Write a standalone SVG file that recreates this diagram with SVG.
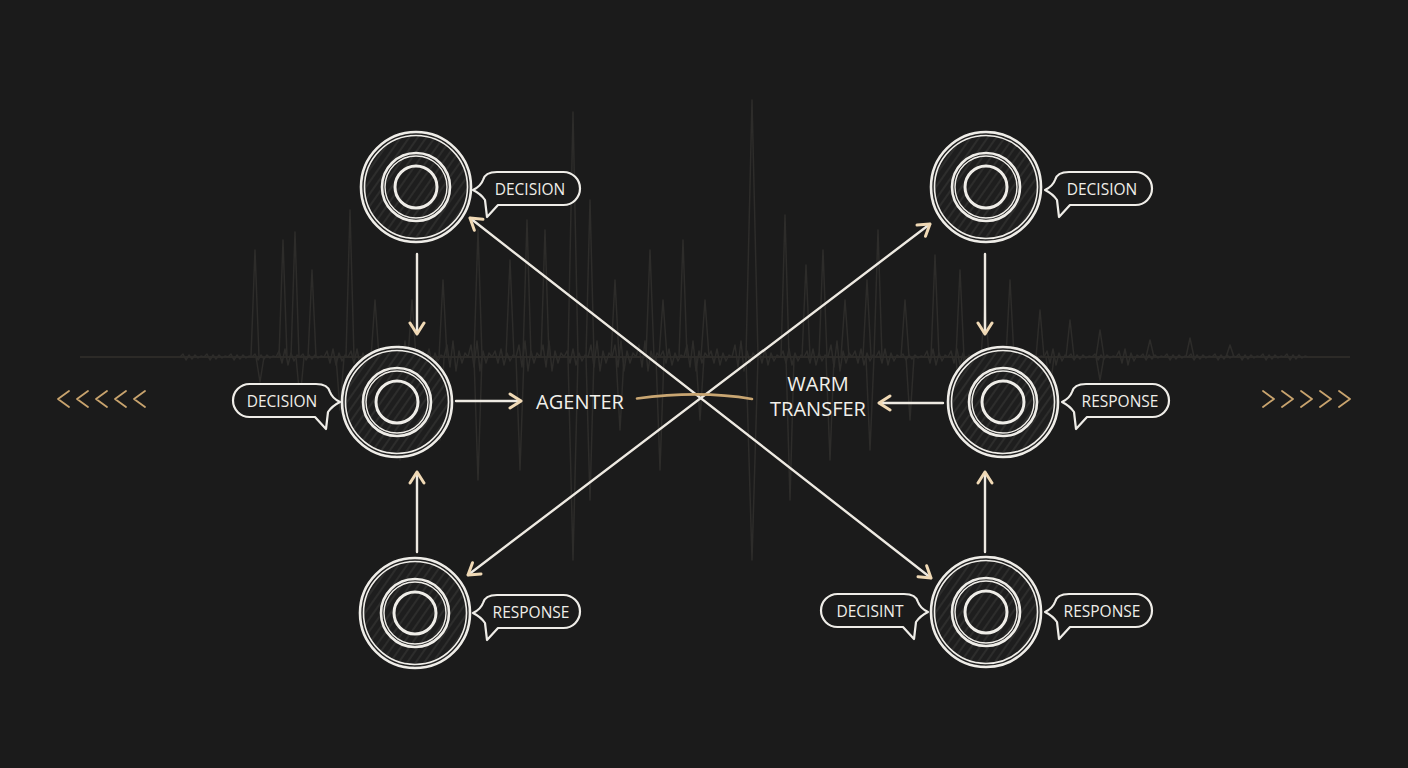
<svg xmlns="http://www.w3.org/2000/svg" xmlns:xlink="http://www.w3.org/1999/xlink" width="1408" height="768" viewBox="0 0 1408 768">
<style>
.ink{fill:none;stroke:#efede8;stroke-linecap:round;stroke-linejoin:round}
.conn{fill:none;stroke:#eeeae2;stroke-width:2.4;stroke-linecap:round}
.lbl{font-family:"Open Sans","Noto Sans","Liberation Sans",sans-serif;font-size:15.5px;fill:#f0eee9;text-anchor:middle}
.big{font-family:"Open Sans","Noto Sans","Liberation Sans",sans-serif;font-size:20px;fill:#f2f0ea;text-anchor:middle}
.wave{fill:none;stroke:#2d2c2a;stroke-width:1.5;stroke-linejoin:round}
.chev{fill:none;stroke:#c9a46e;stroke-width:1.8;stroke-linecap:round;stroke-linejoin:round}
</style>
<defs>
<pattern id="hatch" patternUnits="userSpaceOnUse" width="7" height="7" patternTransform="rotate(35)">
<rect width="7" height="7" fill="#1e1e1e"/>
<line x1="1" y1="0" x2="1" y2="7" stroke="#3b3b3a" stroke-width="1"/>
</pattern>
<marker id="ah" viewBox="-14 -9 16 18" refX="0" refY="0" markerWidth="16" markerHeight="18" markerUnits="userSpaceOnUse" orient="auto-start-reverse">
<path d="M-11,-7 L0,0 L-11,7" fill="none" stroke="#f0d9b5" stroke-width="3" stroke-linecap="round" stroke-linejoin="round"/>
</marker>
<g id="ring">
<circle r="55" fill="url(#hatch)"/>
<circle r="55" class="ink" stroke-width="2.6"/>
<circle r="51.5" class="ink" stroke-width="1.6"/>
<circle r="34" class="ink" stroke-width="2.6"/>
<circle r="31" class="ink" stroke-width="1.4"/>
<circle r="21" class="ink" stroke-width="3"/>
</g>
<path id="callout" d="M0,0 Q8,-4 10,-10 Q12,-18 24,-18 H90.5 A16.5 16.5 0 0 1 90.5,15 H25 L14,27 L12,10 Q8,4 0,0 Z" fill="#1b1b1b" stroke="#efede8" stroke-width="2.2" stroke-linejoin="round"/>
</defs>
<rect width="1408" height="768" fill="#1b1b1b"/>
<g id="waveform">
<line x1="80" y1="357" x2="1350" y2="357" stroke="#2c2a27" stroke-width="2.2"/>
<path class="wave" d="M180,357
l3,-3 l3,6 l3,-5 l3,4 l3,-4 l3,3 l3,-2 l3,1
l3,-3 l3,6 l3,-5 l3,4 l3,-4 l3,3 l3,-2 l3,1
l3,-3 l3,6 l3,-5 l3,4 l3,-4 l3,3 l3,-2 l3,1
l3,-3 l3,6 l3,-5 l3,4 l3,-4 l3,3 l3,-2 l3,1
l3,-6 l3,12 l3,-14 l3,16 l3,-12 l3,8 l3,-6 l3,2
l3,-3 l3,6 l3,-5 l3,4 l3,-4 l3,3 l3,-2 l3,1
l3,-6 l3,12 l3,-14 l3,16 l3,-12 l3,8 l3,-6 l3,2
l3,-6 l3,12 l3,-14 l3,16 l3,-12 l3,8 l3,-6 l3,2
l3,-6 l3,12 l3,-14 l3,16 l3,-12 l3,8 l3,-6 l3,2
l3,-12 l3,22 l3,-26 l3,30 l3,-20 l3,12 l3,-10 l3,4
l3,-6 l3,12 l3,-14 l3,16 l3,-12 l3,8 l3,-6 l3,2
l3,-12 l3,22 l3,-26 l3,30 l3,-20 l3,12 l3,-10 l3,4
l3,-12 l3,22 l3,-26 l3,30 l3,-20 l3,12 l3,-10 l3,4
l3,-6 l3,12 l3,-14 l3,16 l3,-12 l3,8 l3,-6 l3,2
l3,-12 l3,22 l3,-26 l3,30 l3,-20 l3,12 l3,-10 l3,4
l3,-12 l3,22 l3,-26 l3,30 l3,-20 l3,12 l3,-10 l3,4
l3,-6 l3,12 l3,-14 l3,16 l3,-12 l3,8 l3,-6 l3,2
l3,-12 l3,22 l3,-26 l3,30 l3,-20 l3,12 l3,-10 l3,4
l3,-12 l3,22 l3,-26 l3,30 l3,-20 l3,12 l3,-10 l3,4
l3,-12 l3,22 l3,-26 l3,30 l3,-20 l3,12 l3,-10 l3,4
l3,-6 l3,12 l3,-14 l3,16 l3,-12 l3,8 l3,-6 l3,2
l3,-12 l3,22 l3,-26 l3,30 l3,-20 l3,12 l3,-10 l3,4
l3,-6 l3,12 l3,-14 l3,16 l3,-12 l3,8 l3,-6 l3,2
l3,-12 l3,22 l3,-26 l3,30 l3,-20 l3,12 l3,-10 l3,4
l3,-6 l3,12 l3,-14 l3,16 l3,-12 l3,8 l3,-6 l3,2
l3,-6 l3,12 l3,-14 l3,16 l3,-12 l3,8 l3,-6 l3,2
l3,-6 l3,12 l3,-14 l3,16 l3,-12 l3,8 l3,-6 l3,2
l3,-12 l3,22 l3,-26 l3,30 l3,-20 l3,12 l3,-10 l3,4
l3,-6 l3,12 l3,-14 l3,16 l3,-12 l3,8 l3,-6 l3,2
l3,-6 l3,12 l3,-14 l3,16 l3,-12 l3,8 l3,-6 l3,2
l3,-3 l3,6 l3,-5 l3,4 l3,-4 l3,3 l3,-2 l3,1
l3,-6 l3,12 l3,-14 l3,16 l3,-12 l3,8 l3,-6 l3,2
l3,-6 l3,12 l3,-14 l3,16 l3,-12 l3,8 l3,-6 l3,2
l3,-3 l3,6 l3,-5 l3,4 l3,-4 l3,3 l3,-2 l3,1
l3,-6 l3,12 l3,-14 l3,16 l3,-12 l3,8 l3,-6 l3,2
l3,-3 l3,6 l3,-5 l3,4 l3,-4 l3,3 l3,-2 l3,1
l3,-6 l3,12 l3,-14 l3,16 l3,-12 l3,8 l3,-6 l3,2
l3,-3 l3,6 l3,-5 l3,4 l3,-4 l3,3 l3,-2 l3,1
l3,-3 l3,6 l3,-5 l3,4 l3,-4 l3,3 l3,-2 l3,1
l3,-6 l3,12 l3,-14 l3,16 l3,-12 l3,8 l3,-6 l3,2
l3,-3 l3,6 l3,-5 l3,4 l3,-4 l3,3 l3,-2 l3,1
l3,-3 l3,6 l3,-5 l3,4 l3,-4 l3,3 l3,-2 l3,1
l3,-3 l3,6 l3,-5 l3,4 l3,-4 l3,3 l3,-2 l3,1
l3,-3 l3,6 l3,-5 l3,4 l3,-4 l3,3 l3,-2 l3,1
l3,-3 l3,6 l3,-5 l3,4 l3,-4 l3,3 l3,-2 l3,1
l3,-3 l3,6 l3,-5 l3,4 l3,-4 l3,3 l3,-2 l3,1
l3,-3 l3,6 l3,-5 l3,4 l3,-4 l3,3 l3,-2 l3,1"/>
<path class="wave" d="M251,357 L255,250 L259,357 M279,357 L283,240 L287,357 M291,357 L295,232 L299,357 M308,357 L312,270 L316,357 M346,357 L350,210 L354,357 M371,357 L375,300 L379,357 M408,357 L412,300 L416,357 M439,357 L443,280 L447,357 M474,357 L478,230 L482,357 M506,357 L510,260 L514,357 M523,357 L527,220 L531,357 M541,357 L545,230 L549,357 M568,357 L573,112 L578,357 M586,357 L590,200 L594,357 M611,357 L615,280 L619,357 M646,357 L650,250 L654,357 M659,357 L663,300 L667,357 M679,357 L683,240 L687,357 M701,357 L705,300 L709,357 M746,357 L752,100 L758,357 M781,357 L785,215 L789,357 M802,357 L806,265 L810,357 M819,357 L823,250 L827,357 M841,357 L845,300 L849,357 M863,357 L867,280 L871,357 M874,357 L878,230 L882,357 M901,357 L905,300 L909,357 M931,357 L935,255 L939,357 M956,357 L960,270 L964,357 M981,357 L985,300 L989,357 M1006,357 L1010,280 L1014,357 M1036,357 L1040,310 L1044,357 M1066,357 L1070,320 L1074,357 M1096,357 L1100,330 L1104,357 M1146,357 L1150,340 L1154,357 M1186,357 L1190,338 L1194,357 M1226,357 L1230,345 L1234,357"/>
<path class="wave" d="M256,357 L260,382 L264,357 M296,357 L300,400 L304,357 M336,357 L340,410 L344,357 M374,357 L378,430 L382,357 M396,357 L400,460 L404,357 M436,357 L440,440 L444,357 M474,357 L478,480 L482,357 M516,357 L520,470 L524,357 M568,357 L573,560 L578,357 M586,357 L590,500 L594,357 M616,357 L620,430 L624,357 M656,357 L660,470 L664,357 M696,357 L700,420 L704,357 M746,357 L752,560 L758,357 M786,357 L790,500 L794,357 M826,357 L830,460 L834,357 M866,357 L870,450 L874,357 M906,357 L910,420 L914,357 M956,357 L960,410 L964,357 M996,357 L1000,400 L1004,357 M1046,357 L1050,390 L1054,357 M1096,357 L1100,380 L1104,357"/>
</g>
<g id="chevrons-left">
<path class="chev" d="M69,391 L58,399 L69,407 M88,391 L77,399 L88,407 M107,391 L96,399 L107,407 M126,391 L115,399 L126,407 M145,391 L134,399 L145,407"/>
</g>
<g id="chevrons-right">
<path class="chev" d="M1263,391 L1274,399 L1263,407 M1282,391 L1293,399 L1282,407 M1301,391 L1312,399 L1301,407 M1320,391 L1331,399 L1320,407 M1339,391 L1350,399 L1339,407"/>
</g>
<g id="connectors">
<line class="conn" x1="417" y1="254" x2="417" y2="334" marker-end="url(#ah)"/>
<line class="conn" x1="417" y1="552" x2="417" y2="472" marker-end="url(#ah)"/>
<line class="conn" x1="985" y1="254" x2="985" y2="334" marker-end="url(#ah)"/>
<line class="conn" x1="985" y1="552" x2="985" y2="472" marker-end="url(#ah)"/>
<line class="conn" x1="456" y1="401" x2="521" y2="401" stroke-width="3" marker-end="url(#ah)"/>
<line class="conn" x1="943" y1="403" x2="879" y2="403" stroke-width="3" marker-end="url(#ah)"/>
<line class="conn" x1="470" y1="218" x2="931" y2="578" marker-start="url(#ah)" marker-end="url(#ah)"/>
<line class="conn" x1="468" y1="575" x2="930" y2="224" marker-start="url(#ah)" marker-end="url(#ah)"/>
<path d="M637,398.5 Q700,390 752,399" fill="none" stroke="#c9a672" stroke-width="2.6" stroke-linecap="round"/>
</g>
<g id="node-tl">
<use href="#ring" transform="translate(416,187)"/>
<use href="#callout" transform="translate(473,190)"/>
<text class="lbl" x="530" y="195">DECISION</text>
</g>
<g id="node-ml">
<use href="#ring" transform="translate(397,402)"/>
<use href="#callout" transform="translate(340,402) scale(-1,1)"/>
<text class="lbl" x="282" y="407">DECISION</text>
</g>
<g id="node-bl">
<use href="#ring" transform="translate(415,613)"/>
<use href="#callout" transform="translate(473,613)"/>
<text class="lbl" x="531" y="618">RESPONSE</text>
</g>
<g id="node-tr">
<use href="#ring" transform="translate(986,187)"/>
<use href="#callout" transform="translate(1045,190)"/>
<text class="lbl" x="1102" y="195">DECISION</text>
</g>
<g id="node-mr">
<use href="#ring" transform="translate(1003,402)"/>
<use href="#callout" transform="translate(1062,402)"/>
<text class="lbl" x="1120" y="407">RESPONSE</text>
</g>
<g id="node-br">
<use href="#ring" transform="translate(986,612)"/>
<use href="#callout" transform="translate(928,612) scale(-1,1)"/>
<text class="lbl" x="870" y="617">DECISINT</text>
<use href="#callout" transform="translate(1045,612)"/>
<text class="lbl" x="1102" y="617">RESPONSE</text>
</g>
<g id="agenter">
<text class="big" x="580" y="409">AGENTER</text>
</g>
<g id="warm-transfer">
<text class="big" x="818" y="391">WARM</text>
<text class="big" x="818" y="416">TRANSFER</text>
</g>
</svg>
